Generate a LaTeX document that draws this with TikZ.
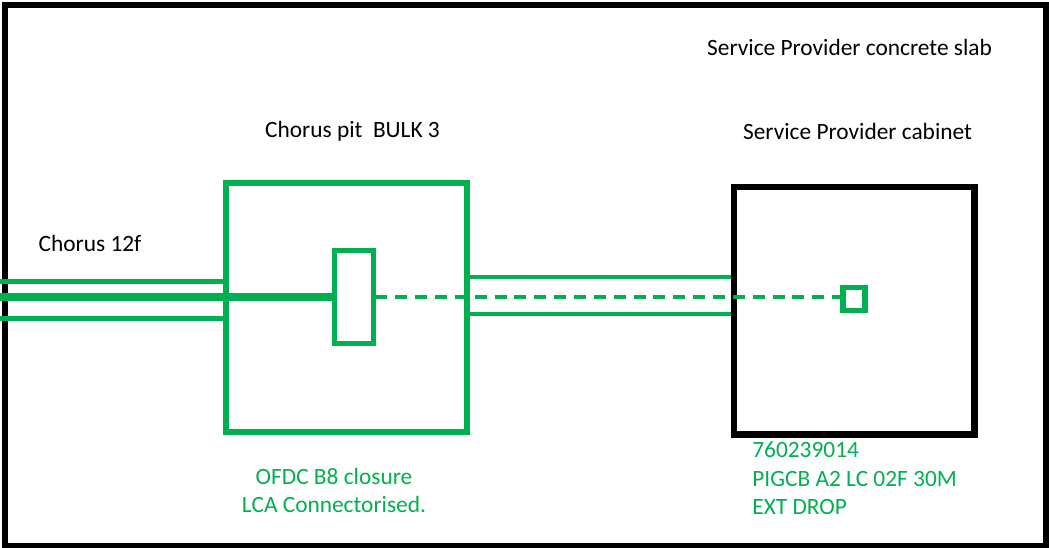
\documentclass[tikz,border=0pt]{standalone}
\usepackage{fontspec}
\setmainfont{Carlito}
\usepackage{tikz}
\usetikzlibrary{positioning, calc}
\definecolor{fibregreen}{RGB}{0,176,80}

\tikzset{
    gbox/.style={draw=fibregreen, rectangle, inner sep=0pt},
    kbox/.style={draw=black, rectangle, inner sep=0pt},
    lbl/.style={inner sep=0pt, font=\fontsize{13.3}{16.2}\selectfont},
    glbl/.style={lbl, text=fibregreen}
}

\begin{document}
\begin{tikzpicture}[x=0.02cm, y=-0.02cm]
                \useasboundingbox (0,0) rectangle (1049,548);
                \draw[line width=3.4pt] (5,5) rectangle (1046,546);
                % pit, closure, duct and cabinet
                \node[gbox, line width=3.2pt, minimum width=4.82cm, minimum height=4.98cm] (pit) at (346.5,307.5) {};
                \node[gbox, line width=2.3pt, minimum width=0.78cm, minimum height=1.86cm] (closure) at (354,297) {};
                \node[gbox, line width=2.3pt, minimum width=5.32cm, minimum height=0.73cm] (duct) at (600,295.7) {};
                \node[kbox, line width=3.8pt, minimum width=4.81cm, minimum height=4.95cm] (cabinet) at (854.3,310.8) {};
                \node[gbox, line width=3.4pt, minimum width=0.44cm, minimum height=0.46cm] (term) at (854,299) {};
                % chorus 12f cable
                \coordinate (c12) at (0,297);
                \coordinate (c12up) at (0,281.5);
                \coordinate (c12dn) at (0,318.5);
                \draw[fibregreen, line width=4.8pt] (c12) -- (c12 -| closure.west);
                \draw[fibregreen, line width=2.3pt] (c12up) -- (c12up -| pit.west);
                \draw[fibregreen, line width=2.3pt] (c12dn) -- (c12dn -| pit.west);
                \draw[fibregreen, line width=2.3pt, dash pattern=on 6.8pt off 4.5pt] (closure.east) -- (closure.east -| term.west);
                % labels
                \node[lbl] (slab) at (849.5,47) {Service Provider concrete slab};
                \node[lbl] (pitlbl) at (352.5,131) {Chorus pit\ \ BULK 3};
                \node[lbl] (cablbl) at (857.5,131) {Service Provider cabinet};
                \node[lbl] (c12lbl) at (90,243) {Chorus 12f};
                \node[glbl, align=center] (closurelbl) at (334,490.5) {OFDC B8 closure\\LCA Connectorised.};
                \node[glbl, align=left, anchor=west] (droplbl) at (752,478.5) {760239014\\PIGCB A2 LC 02F 30M\\EXT DROP};
            \end{tikzpicture}
\end{document}
